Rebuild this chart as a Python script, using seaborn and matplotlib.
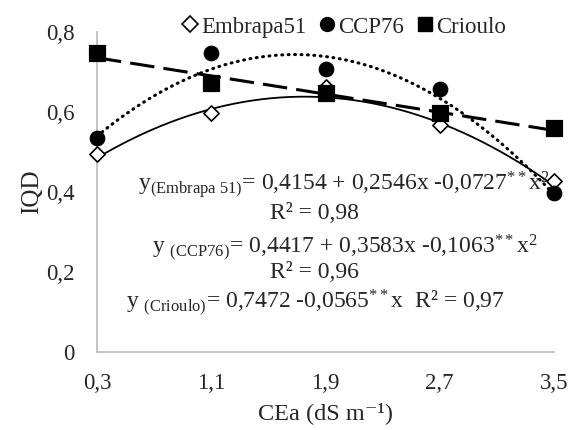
import numpy as np
import pandas as pd
import matplotlib
matplotlib.use("Agg")
import matplotlib.pyplot as plt
from matplotlib.lines import Line2D
import seaborn as sns

# ---- data ----
cea = [0.3, 1.1, 1.9, 2.7, 3.5]
xtick_labels = ["0,3", "1,1", "1,9", "2,7", "3,5"]
ytick_vals = [0, 0.2, 0.4, 0.6, 0.8]
ytick_labels = ["0", "0,2", "0,4", "0,6", "0,8"]
embrapa51 = [0.495, 0.598, 0.663, 0.567, 0.428]
ccp76 = [0.534, 0.748, 0.707, 0.657, 0.397]
crioulo = [0.748, 0.673, 0.647, 0.597, 0.559]
coef_embrapa = [0.4154, 0.2546, -0.0727]
coef_ccp = [0.4417, 0.3583, -0.1063]

sns.set_style("white")
plt.rcParams["font.family"] = ["Liberation Serif", "DejaVu Serif"]
plt.rcParams["mathtext.fontset"] = "custom"
plt.rcParams["mathtext.rm"] = "Liberation Serif"
plt.rcParams["mathtext.it"] = "Liberation Serif:italic"

fig = plt.figure(figsize=(5.69, 4.30), dpi=100)
ax = fig.add_axes([97/569, 1-352/430, (554-97)/569, (352-32)/430])

df = pd.DataFrame({"CEa": cea * 3,
                   "IQD": embrapa51 + ccp76 + crioulo,
                   "Cultivar": ["Embrapa51"] * 5 + ["CCP76"] * 5 + ["Crioulo"] * 5})

# trend lines
xs = np.linspace(cea[0], cea[-1], 200)
y_emb = coef_embrapa[0] + coef_embrapa[1] * xs + coef_embrapa[2] * xs**2
y_ccp = coef_ccp[0] + coef_ccp[1] * xs + coef_ccp[2] * xs**2
p = np.polyfit(cea, crioulo, 1)
y_cri = np.polyval(p, xs)

sns.lineplot(x=xs, y=y_emb, ax=ax, color="black", lw=1.3, linestyle="-")
sns.lineplot(x=xs, y=y_ccp, ax=ax, color="black", lw=2.2, linestyle=(0, (0.3, 1.8)),
             dash_capstyle="round")
sns.lineplot(x=xs, y=y_cri, ax=ax, color="black", lw=2.2)
ax.lines[-1].set_dashes((8, 3))

styles = {"Embrapa51": dict(marker="D", s=60, facecolor="white", edgecolor="black", linewidth=1.2),
          "CCP76": dict(marker="o", s=110, color="black", edgecolor="black"),
          "Crioulo": dict(marker="s", s=120, color="black", edgecolor="black")}
for name, st in styles.items():
    sub = df[df["Cultivar"] == name]
    sns.scatterplot(data=sub, x="CEa", y="IQD", ax=ax, zorder=5, clip_on=False, legend=False, **st)

ax.set_xlim(0.3, 3.5)
ax.set_ylim(0, 0.8)
ax.set_xticks(cea)
ax.set_xticklabels(xtick_labels)
ax.set_yticks(ytick_vals)
ax.set_yticklabels(ytick_labels)
ax.tick_params(axis="both", length=0, labelsize=16.5)
ax.tick_params(axis="x", pad=15)
ax.tick_params(axis="y", pad=16)
for s in ["top", "right"]:
    ax.spines[s].set_visible(False)
for s in ["left", "bottom"]:
    ax.spines[s].set_color("#bfbfbf")
    ax.spines[s].set_linewidth(1.3)
ax.set_xlabel("CEa (dS m⁻¹)", fontsize=17.5, labelpad=6)
ax.set_ylabel("IQD", fontsize=18, labelpad=2)

handles = [Line2D([], [], marker="D", color="none", markerfacecolor="white",
                  markeredgecolor="black", markersize=8, markeredgewidth=1.2),
           Line2D([], [], marker="o", color="none", markerfacecolor="black",
                  markeredgecolor="black", markersize=10),
           Line2D([], [], marker="s", color="none", markerfacecolor="black",
                  markeredgecolor="black", markersize=10)]
fig.legend(handles, ["Embrapa51", "CCP76", "Crioulo"], loc="center",
           bbox_to_anchor=(342/569, 1-27/430), ncol=3, frameon=False, fontsize=16.5,
           handletextpad=0.0, columnspacing=0.4, handlelength=1.0, borderaxespad=0)

fs = 17
fig.text(344/569, 1-185/430, r"y$_{\mathrm{(Embrapa\ 51)}}$= 0,4154 + 0,2546x -0,0727$^{**}$x$^{2}$",
         ha="center", va="center", fontsize=fs)
fig.text(314/569, 1-214/430, "R² = 0,98", ha="center", va="center", fontsize=fs)
fig.text(345/569, 1-248/430, r"y $_{\mathrm{(CCP76)}}$= 0,4417 + 0,3583x -0,1063$^{**}$x$^{2}$",
         ha="center", va="center", fontsize=fs)
fig.text(314/569, 1-272/430, "R² = 0,96", ha="center", va="center", fontsize=fs)
fig.text(315/569, 1-303/430, r"y $_{\mathrm{(Crioulo)}}$= 0,7472 -0,0565$^{**}$x  R² = 0,97",
         ha="center", va="center", fontsize=fs)

fig.savefig("out.png", dpi=100)
